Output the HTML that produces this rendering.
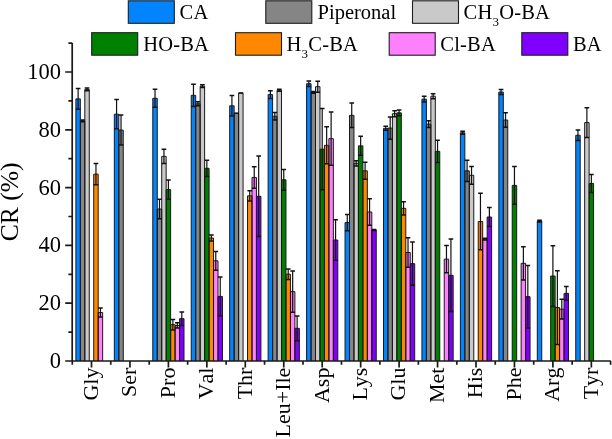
<!DOCTYPE html>
<html><head><meta charset="utf-8"><style>
html,body{margin:0;padding:0;background:#fff;}
body{width:612px;height:439px;overflow:hidden;}
svg{display:block;will-change:transform;}
text{font-family:"Liberation Serif",serif;fill:#000;font-kerning:none;}
</style></head><body>
<svg width="612" height="439" viewBox="0 0 612 439">
<g>
<rect x="75.89" y="98.88" width="4.46" height="262.12" fill="#0284FF"/>
<rect x="80.35" y="120.84" width="4.46" height="240.16" fill="#858585"/>
<rect x="84.81" y="89.34" width="4.46" height="271.66" fill="#C9C9C9"/>
<rect x="93.73" y="174.16" width="4.46" height="186.84" fill="#FF8800"/>
<rect x="98.19" y="312.51" width="4.46" height="48.49" fill="#FF80FF"/>
<rect x="114.34" y="114.19" width="4.46" height="246.81" fill="#0284FF"/>
<rect x="118.8" y="130.09" width="4.46" height="230.91" fill="#858585"/>
<rect x="152.79" y="98.3" width="4.46" height="262.7" fill="#0284FF"/>
<rect x="157.25" y="208.99" width="4.46" height="152.01" fill="#858585"/>
<rect x="161.71" y="156.39" width="4.46" height="204.61" fill="#C9C9C9"/>
<rect x="166.17" y="189.62" width="4.46" height="171.38" fill="#008000"/>
<rect x="170.63" y="324.67" width="4.46" height="36.33" fill="#FF8800"/>
<rect x="175.09" y="325.45" width="4.46" height="35.55" fill="#FF80FF"/>
<rect x="179.55" y="318.66" width="4.46" height="42.34" fill="#8000FF"/>
<rect x="191.24" y="95.32" width="4.46" height="265.68" fill="#0284FF"/>
<rect x="195.7" y="103.79" width="4.46" height="257.21" fill="#858585"/>
<rect x="200.16" y="86.16" width="4.46" height="274.84" fill="#C9C9C9"/>
<rect x="204.62" y="168.32" width="4.46" height="192.68" fill="#008000"/>
<rect x="209.08" y="238" width="4.46" height="123" fill="#FF8800"/>
<rect x="213.54" y="260.83" width="4.46" height="100.17" fill="#FF80FF"/>
<rect x="218" y="296.41" width="4.46" height="64.59" fill="#8000FF"/>
<rect x="229.69" y="105.81" width="4.46" height="255.19" fill="#0284FF"/>
<rect x="234.15" y="113.33" width="4.46" height="247.67" fill="#858585"/>
<rect x="238.61" y="93.1" width="4.46" height="267.9" fill="#C9C9C9"/>
<rect x="247.53" y="195.84" width="4.46" height="165.16" fill="#FF8800"/>
<rect x="251.99" y="177.48" width="4.46" height="183.52" fill="#FF80FF"/>
<rect x="256.45" y="196.27" width="4.46" height="164.73" fill="#8000FF"/>
<rect x="268.14" y="94.54" width="4.46" height="266.46" fill="#0284FF"/>
<rect x="272.6" y="116.22" width="4.46" height="244.78" fill="#858585"/>
<rect x="277.06" y="90.21" width="4.46" height="270.79" fill="#C9C9C9"/>
<rect x="281.52" y="179.8" width="4.46" height="181.2" fill="#008000"/>
<rect x="285.98" y="274.18" width="4.46" height="86.82" fill="#FF8800"/>
<rect x="290.44" y="291.67" width="4.46" height="69.33" fill="#FF80FF"/>
<rect x="294.9" y="328.34" width="4.46" height="32.66" fill="#8000FF"/>
<rect x="306.59" y="83.7" width="4.46" height="277.3" fill="#0284FF"/>
<rect x="311.05" y="92.35" width="4.46" height="268.65" fill="#858585"/>
<rect x="315.51" y="86.68" width="4.46" height="274.32" fill="#C9C9C9"/>
<rect x="319.97" y="149.16" width="4.46" height="211.84" fill="#008000"/>
<rect x="324.43" y="145.32" width="4.46" height="215.68" fill="#FF8800"/>
<rect x="328.89" y="138.67" width="4.46" height="222.33" fill="#FF80FF"/>
<rect x="333.35" y="240" width="4.46" height="121" fill="#8000FF"/>
<rect x="345.04" y="222.57" width="4.46" height="138.43" fill="#0284FF"/>
<rect x="349.5" y="115.35" width="4.46" height="245.65" fill="#858585"/>
<rect x="353.96" y="163.32" width="4.46" height="197.68" fill="#C9C9C9"/>
<rect x="358.42" y="145.84" width="4.46" height="215.16" fill="#008000"/>
<rect x="362.88" y="170.84" width="4.46" height="190.16" fill="#FF8800"/>
<rect x="367.34" y="211.99" width="4.46" height="149.01" fill="#FF80FF"/>
<rect x="371.8" y="230" width="4.46" height="131" fill="#8000FF"/>
<rect x="383.49" y="128.35" width="4.46" height="232.65" fill="#0284FF"/>
<rect x="387.95" y="128.09" width="4.46" height="232.91" fill="#858585"/>
<rect x="392.41" y="113.67" width="4.46" height="247.33" fill="#C9C9C9"/>
<rect x="396.87" y="112.84" width="4.46" height="248.16" fill="#008000"/>
<rect x="401.33" y="208.32" width="4.46" height="152.68" fill="#FF8800"/>
<rect x="405.79" y="252.51" width="4.46" height="108.49" fill="#FF80FF"/>
<rect x="410.25" y="263.66" width="4.46" height="97.34" fill="#8000FF"/>
<rect x="421.94" y="99.17" width="4.46" height="261.83" fill="#0284FF"/>
<rect x="426.4" y="124.16" width="4.46" height="236.84" fill="#858585"/>
<rect x="430.86" y="96.16" width="4.46" height="264.84" fill="#C9C9C9"/>
<rect x="435.32" y="151.33" width="4.46" height="209.67" fill="#008000"/>
<rect x="444.24" y="259.16" width="4.46" height="101.84" fill="#FF80FF"/>
<rect x="448.7" y="275.34" width="4.46" height="85.66" fill="#8000FF"/>
<rect x="460.39" y="132.75" width="4.46" height="228.25" fill="#0284FF"/>
<rect x="464.85" y="170.84" width="4.46" height="190.16" fill="#858585"/>
<rect x="469.31" y="175.32" width="4.46" height="185.68" fill="#C9C9C9"/>
<rect x="478.23" y="221.5" width="4.46" height="139.5" fill="#FF8800"/>
<rect x="482.69" y="239.04" width="4.46" height="121.96" fill="#FF80FF"/>
<rect x="487.15" y="216.99" width="4.46" height="144.01" fill="#8000FF"/>
<rect x="498.84" y="92" width="4.46" height="269" fill="#0284FF"/>
<rect x="503.3" y="120" width="4.46" height="241" fill="#858585"/>
<rect x="512.22" y="185.4" width="4.46" height="175.6" fill="#008000"/>
<rect x="521.14" y="263.32" width="4.46" height="97.68" fill="#FF80FF"/>
<rect x="525.6" y="296.67" width="4.46" height="64.33" fill="#8000FF"/>
<rect x="537.29" y="221.01" width="4.46" height="139.99" fill="#0284FF"/>
<rect x="550.67" y="276.03" width="4.46" height="84.97" fill="#008000"/>
<rect x="555.13" y="307.53" width="4.46" height="53.47" fill="#FF8800"/>
<rect x="559.59" y="309.15" width="4.46" height="51.85" fill="#FF80FF"/>
<rect x="564.05" y="293.37" width="4.46" height="67.63" fill="#8000FF"/>
<rect x="575.74" y="135.29" width="4.46" height="225.71" fill="#0284FF"/>
<rect x="584.66" y="122.57" width="4.46" height="238.43" fill="#C9C9C9"/>
<rect x="589.12" y="183.5" width="4.46" height="177.5" fill="#008000"/>
</g>
<path d="M75.89 361V98.88H80.35V361 M80.35 361V120.84H84.81V361 M84.81 361V89.34H89.27V361 M93.73 361V174.16H98.19V361 M98.19 361V312.51H102.65V361 M114.34 361V114.19H118.8V361 M118.8 361V130.09H123.26V361 M152.79 361V98.3H157.25V361 M157.25 361V208.99H161.71V361 M161.71 361V156.39H166.17V361 M166.17 361V189.62H170.63V361 M170.63 361V324.67H175.09V361 M175.09 361V325.45H179.55V361 M179.55 361V318.66H184.01V361 M191.24 361V95.32H195.7V361 M195.7 361V103.79H200.16V361 M200.16 361V86.16H204.62V361 M204.62 361V168.32H209.08V361 M209.08 361V238H213.54V361 M213.54 361V260.83H218V361 M218 361V296.41H222.46V361 M229.69 361V105.81H234.15V361 M234.15 361V113.33H238.61V361 M238.61 361V93.1H243.07V361 M247.53 361V195.84H251.99V361 M251.99 361V177.48H256.45V361 M256.45 361V196.27H260.91V361 M268.14 361V94.54H272.6V361 M272.6 361V116.22H277.06V361 M277.06 361V90.21H281.52V361 M281.52 361V179.8H285.98V361 M285.98 361V274.18H290.44V361 M290.44 361V291.67H294.9V361 M294.9 361V328.34H299.36V361 M306.59 361V83.7H311.05V361 M311.05 361V92.35H315.51V361 M315.51 361V86.68H319.97V361 M319.97 361V149.16H324.43V361 M324.43 361V145.32H328.89V361 M328.89 361V138.67H333.35V361 M333.35 361V240H337.81V361 M345.04 361V222.57H349.5V361 M349.5 361V115.35H353.96V361 M353.96 361V163.32H358.42V361 M358.42 361V145.84H362.88V361 M362.88 361V170.84H367.34V361 M367.34 361V211.99H371.8V361 M371.8 361V230H376.26V361 M383.49 361V128.35H387.95V361 M387.95 361V128.09H392.41V361 M392.41 361V113.67H396.87V361 M396.87 361V112.84H401.33V361 M401.33 361V208.32H405.79V361 M405.79 361V252.51H410.25V361 M410.25 361V263.66H414.71V361 M421.94 361V99.17H426.4V361 M426.4 361V124.16H430.86V361 M430.86 361V96.16H435.32V361 M435.32 361V151.33H439.78V361 M444.24 361V259.16H448.7V361 M448.7 361V275.34H453.16V361 M460.39 361V132.75H464.85V361 M464.85 361V170.84H469.31V361 M469.31 361V175.32H473.77V361 M478.23 361V221.5H482.69V361 M482.69 361V239.04H487.15V361 M487.15 361V216.99H491.61V361 M498.84 361V92H503.3V361 M503.3 361V120H507.76V361 M512.22 361V185.4H516.68V361 M521.14 361V263.32H525.6V361 M525.6 361V296.67H530.06V361 M537.29 361V221.01H541.75V361 M550.67 361V276.03H555.13V361 M555.13 361V307.53H559.59V361 M559.59 361V309.15H564.05V361 M564.05 361V293.37H568.51V361 M575.74 361V135.29H580.2V361 M584.66 361V122.57H589.12V361 M589.12 361V183.5H593.58V361" fill="none" stroke="#1a1a1a" stroke-width="1"/>
<path d="M78.12 88.62V109.14 M82.58 119.97V121.71 M87.04 87.89V90.78 M95.96 163.58V184.74 M100.42 307.91V317.1 M116.57 99.6V128.79 M121.03 115.06V145.12 M155.02 89.34V107.26 M159.48 199.16V218.81 M163.94 149.16V163.61 M168.4 180.09V199.16 M172.86 319.41V329.93 M177.32 322.85V328.05 M181.78 311.9V325.42 M193.47 84.25V106.39 M197.93 101.77V105.81 M202.39 84.72V87.61 M206.85 160.23V176.42 M211.31 235V241.01 M215.77 251.5V270.17 M220.23 277.05V315.77 M231.92 95.55V116.07 M236.38 113.33V113.33 M240.84 93.1V93.1 M249.76 190.66V201.01 M254.22 166.65V188.32 M258.68 156.1V236.44 M270.37 90.64V98.44 M274.83 112.46V119.97 M279.29 89.2V91.22 M283.75 169.39V190.2 M288.21 268.92V279.44 M292.67 271.09V312.25 M297.13 316V340.68 M308.82 80.96V86.45 M313.28 91.48V93.21 M317.74 81.19V92.17 M322.2 108.56V189.77 M326.66 126.82V163.82 M331.12 112V165.35 M335.58 219.68V260.31 M347.27 214.48V230.66 M351.73 103.1V127.6 M356.19 160.72V165.92 M360.65 136.33V155.35 M365.11 162.31V179.36 M369.57 198.67V225.31 M374.03 229.42V230.57 M385.72 126.36V130.35 M390.18 117V139.19 M394.64 110.67V116.68 M399.1 110V115.67 M403.56 201.65V215 M408.02 237.77V267.25 M412.48 242.08V285.25 M424.17 96.28V102.06 M428.63 120.84V127.49 M433.09 93.65V98.67 M437.55 140.23V162.43 M446.47 245.57V272.74 M450.93 239.1V311.58 M462.62 131.3V134.19 M467.08 160.17V181.5 M471.54 166.39V184.25 M480.46 193.35V249.65 M484.92 238.18V239.91 M489.38 207.4V226.59 M501.07 89.4V94.6 M505.53 112.75V127.26 M514.45 166.56V204.25 M523.37 246.64V279.99 M527.83 265.46V327.88 M539.52 220.14V221.88 M552.9 245.69V306.38 M557.36 270.69V344.38 M561.82 299.33V318.98 M566.28 286.47V300.28 M577.97 130.03V140.55 M586.89 107.72V137.43 M591.35 174.39V192.6" fill="none" stroke="#111" stroke-width="1.2"/>
<path d="M75.79 88.62h4.66M75.79 109.14h4.66 M80.25 119.97h4.66M80.25 121.71h4.66 M84.71 87.89h4.66M84.71 90.78h4.66 M93.63 163.58h4.66M93.63 184.74h4.66 M98.09 307.91h4.66M98.09 317.1h4.66 M114.24 99.6h4.66M114.24 128.79h4.66 M118.7 115.06h4.66M118.7 145.12h4.66 M152.69 89.34h4.66M152.69 107.26h4.66 M157.15 199.16h4.66M157.15 218.81h4.66 M161.61 149.16h4.66M161.61 163.61h4.66 M166.07 180.09h4.66M166.07 199.16h4.66 M170.53 319.41h4.66M170.53 329.93h4.66 M174.99 322.85h4.66M174.99 328.05h4.66 M179.45 311.9h4.66M179.45 325.42h4.66 M191.14 84.25h4.66M191.14 106.39h4.66 M195.6 101.77h4.66M195.6 105.81h4.66 M200.06 84.72h4.66M200.06 87.61h4.66 M204.52 160.23h4.66M204.52 176.42h4.66 M208.98 235h4.66M208.98 241.01h4.66 M213.44 251.5h4.66M213.44 270.17h4.66 M217.9 277.05h4.66M217.9 315.77h4.66 M229.59 95.55h4.66M229.59 116.07h4.66 M234.05 113.33h4.66M234.05 113.33h4.66 M238.51 93.1h4.66M238.51 93.1h4.66 M247.43 190.66h4.66M247.43 201.01h4.66 M251.89 166.65h4.66M251.89 188.32h4.66 M256.35 156.1h4.66M256.35 236.44h4.66 M268.04 90.64h4.66M268.04 98.44h4.66 M272.5 112.46h4.66M272.5 119.97h4.66 M276.96 89.2h4.66M276.96 91.22h4.66 M281.42 169.39h4.66M281.42 190.2h4.66 M285.88 268.92h4.66M285.88 279.44h4.66 M290.34 271.09h4.66M290.34 312.25h4.66 M294.8 316h4.66M294.8 340.68h4.66 M306.49 80.96h4.66M306.49 86.45h4.66 M310.95 91.48h4.66M310.95 93.21h4.66 M315.41 81.19h4.66M315.41 92.17h4.66 M319.87 108.56h4.66M319.87 189.77h4.66 M324.33 126.82h4.66M324.33 163.82h4.66 M328.79 112h4.66M328.79 165.35h4.66 M333.25 219.68h4.66M333.25 260.31h4.66 M344.94 214.48h4.66M344.94 230.66h4.66 M349.4 103.1h4.66M349.4 127.6h4.66 M353.86 160.72h4.66M353.86 165.92h4.66 M358.32 136.33h4.66M358.32 155.35h4.66 M362.78 162.31h4.66M362.78 179.36h4.66 M367.24 198.67h4.66M367.24 225.31h4.66 M371.7 229.42h4.66M371.7 230.57h4.66 M383.39 126.36h4.66M383.39 130.35h4.66 M387.85 117h4.66M387.85 139.19h4.66 M392.31 110.67h4.66M392.31 116.68h4.66 M396.77 110h4.66M396.77 115.67h4.66 M401.23 201.65h4.66M401.23 215h4.66 M405.69 237.77h4.66M405.69 267.25h4.66 M410.15 242.08h4.66M410.15 285.25h4.66 M421.84 96.28h4.66M421.84 102.06h4.66 M426.3 120.84h4.66M426.3 127.49h4.66 M430.76 93.65h4.66M430.76 98.67h4.66 M435.22 140.23h4.66M435.22 162.43h4.66 M444.14 245.57h4.66M444.14 272.74h4.66 M448.6 239.1h4.66M448.6 311.58h4.66 M460.29 131.3h4.66M460.29 134.19h4.66 M464.75 160.17h4.66M464.75 181.5h4.66 M469.21 166.39h4.66M469.21 184.25h4.66 M478.13 193.35h4.66M478.13 249.65h4.66 M482.59 238.18h4.66M482.59 239.91h4.66 M487.05 207.4h4.66M487.05 226.59h4.66 M498.74 89.4h4.66M498.74 94.6h4.66 M503.2 112.75h4.66M503.2 127.26h4.66 M512.12 166.56h4.66M512.12 204.25h4.66 M521.04 246.64h4.66M521.04 279.99h4.66 M525.5 265.46h4.66M525.5 327.88h4.66 M537.19 220.14h4.66M537.19 221.88h4.66 M550.57 245.69h4.66M550.57 306.38h4.66 M555.03 270.69h4.66M555.03 344.38h4.66 M559.49 299.33h4.66M559.49 318.98h4.66 M563.95 286.47h4.66M563.95 300.28h4.66 M575.64 130.03h4.66M575.64 140.55h4.66 M584.56 107.72h4.66M584.56 137.43h4.66 M589.02 174.39h4.66M589.02 192.6h4.66" fill="none" stroke="#111" stroke-width="1.5"/>
<path d="M72.2 43.1V361 M71.4 361H610.8 M65.2 361H72.2 M68.4 332.1H72.2 M65.2 303.2H72.2 M68.4 274.3H72.2 M65.2 245.4H72.2 M68.4 216.5H72.2 M65.2 187.6H72.2 M68.4 158.7H72.2 M65.2 129.8H72.2 M68.4 100.9H72.2 M65.2 72H72.2 M68.4 43.1H72.2 M72.3 361V364.7 M110.75 361V364.7 M149.2 361V364.7 M187.65 361V364.7 M226.1 361V364.7 M264.55 361V364.7 M303 361V364.7 M341.45 361V364.7 M379.9 361V364.7 M418.35 361V364.7 M456.8 361V364.7 M495.25 361V364.7 M533.7 361V364.7 M572.15 361V364.7 M610.6 361V364.7 M91.5 361V367.6 M129.95 361V367.6 M168.4 361V367.6 M206.85 361V367.6 M245.3 361V367.6 M283.75 361V367.6 M322.2 361V367.6 M360.65 361V367.6 M399.1 361V367.6 M437.55 361V367.6 M476 361V367.6 M514.45 361V367.6 M552.9 361V367.6 M591.35 361V367.6" fill="none" stroke="#1a1a1a" stroke-width="1.7"/>
<g font-size="22.5" text-anchor="end">
<text x="60.9" y="367.9">0</text>
<text x="60.9" y="310.1">20</text>
<text x="60.9" y="252.3">40</text>
<text x="60.9" y="194.5">60</text>
<text x="60.9" y="136.7">80</text>
<text x="60.9" y="78.9">100</text>
</g>
<g font-size="22" text-anchor="end">
<text transform="translate(97.8 367.6) rotate(-90)">Gly</text>
<text transform="translate(136.25 367.6) rotate(-90)">Ser</text>
<text transform="translate(174.7 367.6) rotate(-90)">Pro</text>
<text transform="translate(213.15 367.6) rotate(-90)">Val</text>
<text transform="translate(251.6 367.6) rotate(-90)">Thr</text>
<text transform="translate(290.05 367.6) rotate(-90)">Leu+Ile</text>
<text transform="translate(328.5 367.6) rotate(-90)">Asp</text>
<text transform="translate(366.95 367.6) rotate(-90)">Lys</text>
<text transform="translate(405.4 367.6) rotate(-90)">Glu</text>
<text transform="translate(443.85 367.6) rotate(-90)">Met</text>
<text transform="translate(482.3 367.6) rotate(-90)">His</text>
<text transform="translate(520.75 367.6) rotate(-90)">Phe</text>
<text transform="translate(559.2 367.6) rotate(-90)">Arg</text>
<text transform="translate(597.65 367.6) rotate(-90)">Tyr</text>
</g>
<text font-size="25.6" text-anchor="middle" transform="translate(18 201.9) rotate(-90)">CR (%)</text>
<rect x="128.3" y="0.8" width="46" height="22.5" fill="#0284FF" stroke="#1e1e1e" stroke-width="1.1"/>
<rect x="265.8" y="0.8" width="46" height="22.5" fill="#858585" stroke="#1e1e1e" stroke-width="1.1"/>
<rect x="412.5" y="0.8" width="46" height="22.5" fill="#C9C9C9" stroke="#1e1e1e" stroke-width="1.1"/>
<rect x="91.7" y="32.7" width="46" height="22.5" fill="#008000" stroke="#1e1e1e" stroke-width="1.1"/>
<rect x="235.5" y="32.7" width="46" height="22.5" fill="#FF8800" stroke="#1e1e1e" stroke-width="1.1"/>
<rect x="389.2" y="32.7" width="46" height="22.5" fill="#FF80FF" stroke="#1e1e1e" stroke-width="1.1"/>
<rect x="521.8" y="32.7" width="46" height="22.5" fill="#8000FF" stroke="#1e1e1e" stroke-width="1.1"/>
<g font-size="20.5" letter-spacing="0.2">
<text x="179.6" y="19">CA</text>
<text x="317.6" y="19" letter-spacing="0">Piperonal</text>
<text x="463.6" y="19">CH<tspan font-size="13" dy="7">3</tspan><tspan dy="-7">O-BA</tspan></text>
<text x="143.2" y="50.5">HO-BA</text>
<text x="286.6" y="50.5">H<tspan font-size="13" dy="7">3</tspan><tspan dy="-7">C-BA</tspan></text>
<text x="440.3" y="50.5">Cl-BA</text>
<text x="572.9" y="50.5">BA</text>
</g>
</svg>
</body></html>
